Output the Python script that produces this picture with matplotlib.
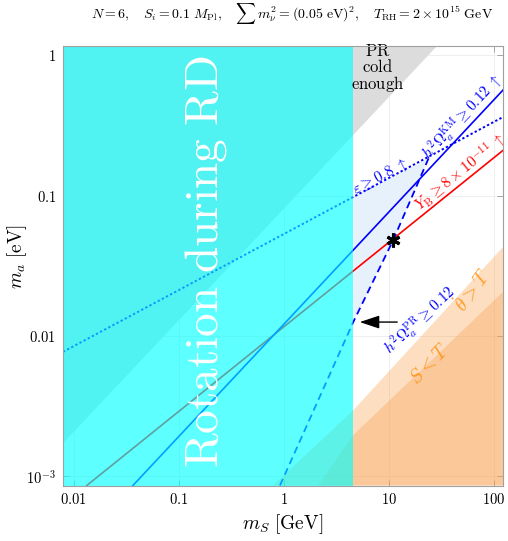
import matplotlib
matplotlib.use("Agg")
import matplotlib.pyplot as plt
from matplotlib.ticker import NullLocator

plt.rcParams["mathtext.fontset"] = "cm"
plt.rcParams["font.family"] = ["DejaVu Serif"]

# ---------- values ----------
x_lim = [0.0079, 122.5]
y_lim = [8.6e-4, 1.17]
m_S_rd = 4.6  # edge of the "rotation during RD" band

# Y_B >= 8e-11 (red)
yb_x = [0.0133, 122.5]
yb_y = [8.6e-4, 0.21]
# h^2 Omega_a^KM >= 0.12 (blue solid)
km_x = [0.0366, 122.5]
km_y = [8.6e-4, 0.565]
# epsilon >= 0.8 (blue dotted)
eps_x = [0.0079, 122.5]
eps_y = [0.0077, 0.363]
# h^2 Omega_a^PR >= 0.12 (blue dashed)
pr_x = [0.92, 4.6, 11.0, 24.0]
pr_y = [8.6e-4, 0.0126, 0.048, 0.185]
# light blue window
win_x = [4.6, 24.0, 11.0, 4.6]
win_y = [0.098, 0.185, 0.048, 0.0126]
# "PR cold enough" boundary
cold_x = [0.0079, 29.0, 0.0079]
cold_y = [0.00172, 1.17, 1.17]
# theta_dot > T boundary
thd_x = [0.79, 4.6, 122.5, 122.5]
thd_y = [8.6e-4, 0.00296, 0.043, 8.6e-4]
# S < T boundary
st_x = [2.12, 4.6, 122.5, 122.5]
st_y = [8.6e-4, 0.00197, 0.0206, 8.6e-4]
star_x = [11.0]
star_y = [0.048]

x_ticks = [0.01, 0.1, 1, 10, 100]
x_ticklabels = ["$0.01$", "$0.1$", "$1$", "$10$", "$100$"]
y_ticks = [1e-3, 0.01, 0.1, 1]
y_ticklabels = ["$10^{-3}$", "$0.01$", "$0.1$", "$1$"]

# ---------- figure ----------
fig = plt.figure(figsize=(5.08, 5.41), dpi=100)
ax = fig.add_axes([63 / 508, 1 - 485.5 / 541, 440 / 508, 439.8 / 541])
ax.set_xscale("log")
ax.set_yscale("log")

orange = (0.98, 0.63, 0.31)
ax.fill(cold_x, cold_y, color="#DCDCDC", lw=0, zorder=1)
ax.fill(thd_x, thd_y, color=orange, alpha=0.35, lw=0, zorder=1)
ax.fill(st_x, st_y, color=orange, alpha=0.35, lw=0, zorder=1)
ax.fill(win_x, win_y, color="#E6F1FC", lw=0, zorder=1)

ax.plot(yb_x, yb_y, color="red", lw=1.2, zorder=2)
ax.plot(km_x, km_y, color="blue", lw=1.2, zorder=2)
ax.plot(eps_x, eps_y, color="blue", lw=1.4, ls=(0, (1.2, 1.2)), zorder=2)
ax.plot(pr_x, pr_y, color="blue", lw=1.3, ls=(0, (4, 2.5)), zorder=2)
ax.plot(star_x, star_y, ls="none", marker=(6, 2, 0), ms=10, mew=2.2,
        color="black", zorder=3)

ax.annotate("", xy=(4.98, 0.01256), xytext=(12.8, 0.01256),
            arrowprops=dict(arrowstyle="-|>,head_length=0.6,head_width=0.2",
                            color="black", lw=1.0, mutation_scale=20),
            zorder=3)

# rotation during RD overlay
ax.axvspan(x_lim[0], m_S_rd, color="cyan", alpha=0.63, lw=0, zorder=4)
ax.text(0.1815, 0.034, r"$\mathrm{Rotation\ during\ RD}$", color="white",
        fontsize=34, rotation=90, ha="center", va="center", zorder=5)

# labels on curves
ax.text(7.9, 0.80, "$\\mathrm{PR}$\n$\\mathrm{cold}$\n$\\mathrm{enough}$",
        fontsize=12, ha="center", va="center", linespacing=0.9, zorder=5)
ax.text(8.4, 0.137, r"$\varepsilon \geq 0.8\ \uparrow$", color="blue",
        fontsize=11, rotation=28, ha="center", va="center", zorder=5)
ax.text(50.5, 0.36, r"$h^2\Omega_a^{\rm KM} \geq 0.12\ \uparrow$",
        color="blue", fontsize=11, rotation=47, ha="center", va="center",
        zorder=5)
ax.text(48.5, 0.146, r"$Y_{\rm B} \geq 8\times10^{-11}\ \uparrow$",
        color="red", fontsize=11, rotation=39, ha="center", va="center",
        zorder=5)
ax.text(20.2, 0.0127, r"$h^2\Omega_a^{\rm PR} \geq 0.12$", color="blue",
        fontsize=11, rotation=43, ha="center", va="center", zorder=5)
ax.text(62, 0.0212, r"$\dot\theta > T$", color="darkorange", alpha=0.8,
        fontsize=14, rotation=54, ha="center", va="center", zorder=5)
ax.text(24.7, 0.0063, r"$S < T$", color="darkorange", alpha=0.8,
        fontsize=14, rotation=46, ha="center", va="center", zorder=5)

ax.set_xlim(x_lim)
ax.set_ylim(y_lim)
ax.set_xticks(x_ticks)
ax.set_xticklabels(x_ticklabels)
ax.set_yticks(y_ticks)
ax.set_yticklabels(y_ticklabels)
ax.xaxis.set_minor_locator(NullLocator())
ax.yaxis.set_minor_locator(NullLocator())
ax.tick_params(direction="in", top=True, right=True, length=4, width=0.6,
               color="#999999", labelsize=10.5, pad=5)
ax.grid(True, color="#EBEBEB", lw=0.6, zorder=0)
ax.set_axisbelow(True)
for s in ax.spines.values():
    s.set_color("#A0A0A0")
    s.set_linewidth(0.8)
    s.set_zorder(6)

fig.text(282.5 / 508, 1 - 524 / 541, r"$m_S\ [\mathrm{GeV}]$", fontsize=14,
         ha="center", va="center")
fig.text(17 / 508, 1 - 257 / 541, r"$m_a\ [\mathrm{eV}]$", fontsize=14,
         ha="center", va="center", rotation=90)
fig.text(292 / 508, 1 - 13 / 541,
         r"$N = 6,\quad S_i = 0.1\ M_{\rm Pl},\quad \sum\, m_\nu^2 = "
         r"(0.05\ {\rm eV})^2,\quad T_{\rm RH} = 2\times10^{15}\ {\rm GeV}$",
         fontsize=10, ha="center", va="center")

fig.savefig("out.png", dpi=100)
